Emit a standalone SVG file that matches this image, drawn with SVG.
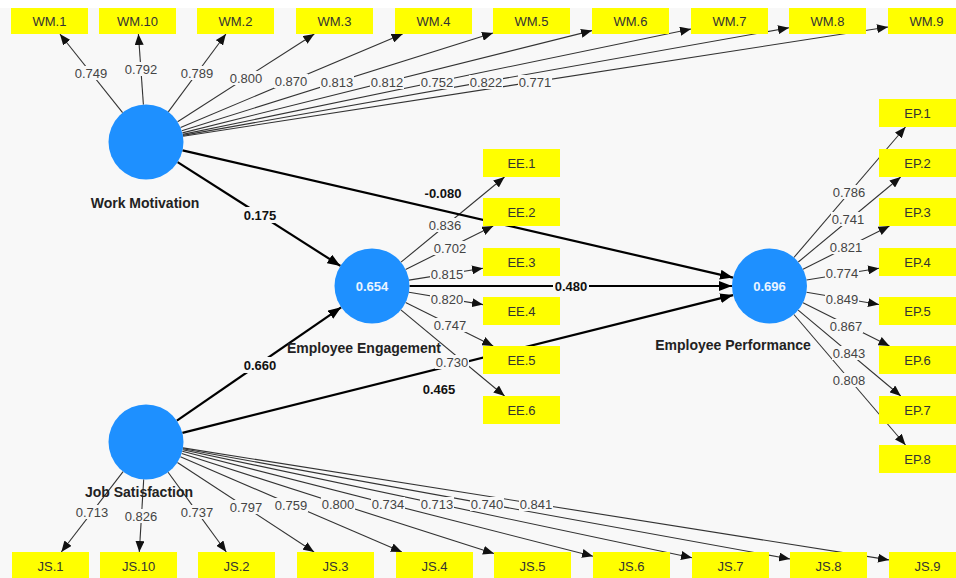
<svg xmlns="http://www.w3.org/2000/svg" width="956" height="578" viewBox="0 0 956 578">
<style>
.bg{fill:#f8f8f8}
.ol{stroke:#333;stroke-width:1.1;fill:none;marker-end:url(#ah)}
.il{stroke:#000;stroke-width:2.2;fill:none;marker-end:url(#ahb)}
.box{fill:#ffff00}
.bt{font-family:"Liberation Sans",Arial,sans-serif;font-size:13px;fill:#333;text-anchor:middle;dominant-baseline:central}
.lv{fill:#1e90ff}
.lvt{font-family:"Liberation Sans",Arial,sans-serif;font-size:13px;font-weight:bold;fill:#eaf4ff;text-anchor:middle;dominant-baseline:central}
.nl{font-family:"Liberation Sans",Arial,sans-serif;font-size:14px;font-weight:bold;fill:#222;text-anchor:middle;dominant-baseline:central}
.lb{font-family:"Liberation Sans",Arial,sans-serif;font-size:13px;fill:#444;text-anchor:middle;dominant-baseline:central}
.pb{font-family:"Liberation Sans",Arial,sans-serif;font-size:13px;font-weight:bold;fill:#111;text-anchor:middle;dominant-baseline:central}
.lr{fill:#f8f8f8}
</style>
<defs>
<marker id="ah" markerUnits="userSpaceOnUse" markerWidth="12" markerHeight="9" refX="11" refY="4.5" orient="auto"><path d="M0,0 L11,4.5 L0,9 z" fill="#111"/></marker>
<marker id="ahb" markerUnits="userSpaceOnUse" markerWidth="14" markerHeight="10" refX="13" refY="5" orient="auto"><path d="M0,0 L13,5 L0,10 z" fill="#000"/></marker>
</defs>
<rect class="bg" x="0" y="0" width="956" height="578"/>
<rect x="0" y="0" width="956" height="8" fill="#ffffff"/>

<g id="connectors">
<!-- WM loadings -->
<line class="ol" x1="122.6" y1="112.7" x2="59.9" y2="34"/>
<line class="ol" x1="143.4" y1="104.6" x2="138.4" y2="34"/>
<line class="ol" x1="168.3" y1="111.9" x2="225.9" y2="34"/>
<line class="ol" x1="177.6" y1="121.7" x2="314.3" y2="34"/>
<line class="ol" x1="180.6" y1="127.5" x2="402.6" y2="34"/>
<line class="ol" x1="181.8" y1="130.8" x2="493" y2="33.1"/>
<line class="ol" x1="182.4" y1="132.9" x2="592" y2="30.6"/>
<line class="ol" x1="182.7" y1="134.4" x2="691" y2="29"/>
<line class="ol" x1="182.9" y1="135.4" x2="789" y2="27.8"/>
<line class="ol" x1="183.1" y1="136.3" x2="888" y2="27"/>
<!-- JS loadings -->
<line class="ol" x1="123.1" y1="471.7" x2="61.3" y2="552"/>
<line class="ol" x1="143.7" y1="479.4" x2="139.3" y2="552"/>
<line class="ol" x1="168.1" y1="472.3" x2="226.3" y2="552"/>
<line class="ol" x1="177.4" y1="462.5" x2="314.1" y2="552"/>
<line class="ol" x1="180.4" y1="456.8" x2="401.9" y2="552"/>
<line class="ol" x1="181.7" y1="453.5" x2="494" y2="553.6"/>
<line class="ol" x1="182.3" y1="451.3" x2="593" y2="556.2"/>
<line class="ol" x1="182.7" y1="449.8" x2="692" y2="557.8"/>
<line class="ol" x1="182.9" y1="448.7" x2="790" y2="559"/>
<line class="ol" x1="183" y1="447.9" x2="889" y2="559.9"/>
<!-- EE loadings -->
<line class="ol" x1="401" y1="262.2" x2="504.5" y2="177"/>
<line class="ol" x1="405.6" y1="269.4" x2="493.2" y2="226"/>
<line class="ol" x1="409" y1="280.1" x2="483" y2="268.2"/>
<line class="ol" x1="409" y1="292.2" x2="483" y2="304.6"/>
<line class="ol" x1="405.6" y1="302.6" x2="493.2" y2="346"/>
<line class="ol" x1="400.9" y1="309.9" x2="504.6" y2="396"/>
<!-- EP loadings -->
<line class="ol" x1="793.9" y1="257.5" x2="905.5" y2="127"/>
<line class="ol" x1="798.3" y1="262" x2="900.7" y2="177"/>
<line class="ol" x1="803" y1="269.2" x2="889.5" y2="226"/>
<line class="ol" x1="806.5" y1="280" x2="879" y2="268.2"/>
<line class="ol" x1="806.5" y1="292.2" x2="879" y2="304.5"/>
<line class="ol" x1="803" y1="302.8" x2="889.5" y2="346"/>
<line class="ol" x1="798.2" y1="310.1" x2="900.8" y2="396"/>
<line class="ol" x1="793.9" y1="314.5" x2="905.5" y2="445"/>
<!-- inner paths -->
<line class="il" x1="177.6" y1="162.1" x2="340.4" y2="265.9"/>
<line class="il" x1="182.5" y1="150.4" x2="733" y2="277.6"/>
<line class="il" x1="176.9" y1="420.7" x2="341.1" y2="307.3"/>
<line class="il" x1="182.4" y1="432.9" x2="733.1" y2="295.1"/>
<line class="il" x1="409.5" y1="286" x2="732" y2="286"/>
</g>

<g id="nodes">
<g id="WM.1"><rect class="box" x="11" y="8" width="77" height="26"/><text class="bt" x="49.5" y="21">WM.1</text></g>
<g id="WM.10"><rect class="box" x="99" y="8" width="77" height="26"/><text class="bt" x="137.5" y="21">WM.10</text></g>
<g id="WM.2"><rect class="box" x="197" y="8" width="77" height="26"/><text class="bt" x="235.5" y="21">WM.2</text></g>
<g id="WM.3"><rect class="box" x="296" y="8" width="77" height="26"/><text class="bt" x="334.5" y="21">WM.3</text></g>
<g id="WM.4"><rect class="box" x="395" y="8" width="77" height="26"/><text class="bt" x="433.5" y="21">WM.4</text></g>
<g id="WM.5"><rect class="box" x="493" y="8" width="77" height="26"/><text class="bt" x="531.5" y="21">WM.5</text></g>
<g id="WM.6"><rect class="box" x="592" y="8" width="77" height="26"/><text class="bt" x="630.5" y="21">WM.6</text></g>
<g id="WM.7"><rect class="box" x="691" y="8" width="77" height="26"/><text class="bt" x="729.5" y="21">WM.7</text></g>
<g id="WM.8"><rect class="box" x="789" y="8" width="77" height="26"/><text class="bt" x="827.5" y="21">WM.8</text></g>
<g id="WM.9"><rect class="box" x="888" y="8" width="77" height="26"/><text class="bt" x="926.5" y="21">WM.9</text></g>

<g id="JS.1"><rect class="box" x="12" y="552" width="77" height="28"/><text class="bt" x="50.5" y="566">JS.1</text></g>
<g id="JS.10"><rect class="box" x="100" y="552" width="77" height="28"/><text class="bt" x="138.5" y="566">JS.10</text></g>
<g id="JS.2"><rect class="box" x="198" y="552" width="77" height="28"/><text class="bt" x="236.5" y="566">JS.2</text></g>
<g id="JS.3"><rect class="box" x="297" y="552" width="77" height="28"/><text class="bt" x="335.5" y="566">JS.3</text></g>
<g id="JS.4"><rect class="box" x="396" y="552" width="77" height="28"/><text class="bt" x="434.5" y="566">JS.4</text></g>
<g id="JS.5"><rect class="box" x="494" y="552" width="77" height="28"/><text class="bt" x="532.5" y="566">JS.5</text></g>
<g id="JS.6"><rect class="box" x="593" y="552" width="77" height="28"/><text class="bt" x="631.5" y="566">JS.6</text></g>
<g id="JS.7"><rect class="box" x="692" y="552" width="77" height="28"/><text class="bt" x="730.5" y="566">JS.7</text></g>
<g id="JS.8"><rect class="box" x="790" y="552" width="77" height="28"/><text class="bt" x="828.5" y="566">JS.8</text></g>
<g id="JS.9"><rect class="box" x="889" y="552" width="77" height="28"/><text class="bt" x="927.5" y="566">JS.9</text></g>

<g id="EE.1"><rect class="box" x="483" y="149" width="77" height="28"/><text class="bt" x="521.5" y="163">EE.1</text></g>
<g id="EE.2"><rect class="box" x="483" y="198" width="77" height="28"/><text class="bt" x="521.5" y="212">EE.2</text></g>
<g id="EE.3"><rect class="box" x="483" y="248" width="77" height="28"/><text class="bt" x="521.5" y="262">EE.3</text></g>
<g id="EE.4"><rect class="box" x="483" y="297" width="77" height="28"/><text class="bt" x="521.5" y="311">EE.4</text></g>
<g id="EE.5"><rect class="box" x="483" y="346" width="77" height="28"/><text class="bt" x="521.5" y="360">EE.5</text></g>
<g id="EE.6"><rect class="box" x="483" y="396" width="77" height="28"/><text class="bt" x="521.5" y="410">EE.6</text></g>

<g id="EP.1"><rect class="box" x="879" y="99" width="77" height="28"/><text class="bt" x="917.5" y="113">EP.1</text></g>
<g id="EP.2"><rect class="box" x="879" y="149" width="77" height="28"/><text class="bt" x="917.5" y="163">EP.2</text></g>
<g id="EP.3"><rect class="box" x="879" y="198" width="77" height="28"/><text class="bt" x="917.5" y="212">EP.3</text></g>
<g id="EP.4"><rect class="box" x="879" y="248" width="77" height="28"/><text class="bt" x="917.5" y="262">EP.4</text></g>
<g id="EP.5"><rect class="box" x="879" y="297" width="77" height="28"/><text class="bt" x="917.5" y="311">EP.5</text></g>
<g id="EP.6"><rect class="box" x="879" y="346" width="77" height="28"/><text class="bt" x="917.5" y="360">EP.6</text></g>
<g id="EP.7"><rect class="box" x="879" y="396" width="77" height="28"/><text class="bt" x="917.5" y="410">EP.7</text></g>
<g id="EP.8"><rect class="box" x="879" y="445" width="77" height="28"/><text class="bt" x="917.5" y="459">EP.8</text></g>

<g id="WorkMotivation"><circle class="lv" cx="146" cy="142" r="37.5"/><text class="nl" x="145" y="203">Work Motivation</text></g>
<g id="JobSatisfaction"><circle class="lv" cx="146" cy="442" r="37.5"/><text class="nl" x="139" y="492">Job Satisfaction</text></g>
<g id="EmployeeEngagement"><circle class="lv" cx="372" cy="286" r="37.5"/><text class="lvt" x="372" y="286">0.654</text><text class="nl" x="364" y="348">Employee Engagement</text></g>
<g id="EmployeePerformance"><circle class="lv" cx="769.5" cy="286" r="37.5"/><text class="lvt" x="769.5" y="286">0.696</text><text class="nl" x="733" y="345">Employee Performance</text></g>
</g>

<g id="edge-labels">
<!-- WM -->
<rect class="lr" x="74" y="66" width="34" height="14"/><text class="lb" x="91" y="73">0.749</text>
<rect class="lr" x="124" y="62" width="34" height="14"/><text class="lb" x="141" y="69">0.792</text>
<rect class="lr" x="180" y="66" width="34" height="14"/><text class="lb" x="197" y="73">0.789</text>
<rect class="lr" x="229" y="71" width="34" height="14"/><text class="lb" x="246" y="78">0.800</text>
<rect class="lr" x="274" y="74" width="34" height="14"/><text class="lb" x="291" y="81">0.870</text>
<rect class="lr" x="320" y="75" width="34" height="14"/><text class="lb" x="337" y="82">0.813</text>
<rect class="lr" x="370" y="75" width="34" height="14"/><text class="lb" x="387" y="82">0.812</text>
<rect class="lr" x="420" y="75" width="34" height="14"/><text class="lb" x="437" y="82">0.752</text>
<rect class="lr" x="469" y="75" width="34" height="14"/><text class="lb" x="486" y="82">0.822</text>
<rect class="lr" x="518" y="75" width="34" height="14"/><text class="lb" x="535" y="82">0.771</text>
<!-- JS -->
<rect class="lr" x="75" y="505" width="34" height="14"/><text class="lb" x="92" y="512">0.713</text>
<rect class="lr" x="124" y="509" width="34" height="14"/><text class="lb" x="141" y="516">0.826</text>
<rect class="lr" x="180" y="505" width="34" height="14"/><text class="lb" x="197" y="512">0.737</text>
<rect class="lr" x="229" y="500" width="34" height="14"/><text class="lb" x="246" y="507">0.797</text>
<rect class="lr" x="274" y="498" width="34" height="14"/><text class="lb" x="291" y="505">0.759</text>
<rect class="lr" x="321" y="497" width="34" height="14"/><text class="lb" x="338" y="504">0.800</text>
<rect class="lr" x="371" y="497" width="34" height="14"/><text class="lb" x="388" y="504">0.734</text>
<rect class="lr" x="420" y="497" width="34" height="14"/><text class="lb" x="437" y="504">0.713</text>
<rect class="lr" x="470" y="497" width="34" height="14"/><text class="lb" x="487" y="504">0.740</text>
<rect class="lr" x="519" y="497" width="34" height="14"/><text class="lb" x="536" y="504">0.841</text>
<!-- EE -->
<rect class="lr" x="428" y="218" width="34" height="14"/><text class="lb" x="445" y="225">0.836</text>
<rect class="lr" x="433" y="241" width="34" height="14"/><text class="lb" x="450" y="248">0.702</text>
<rect class="lr" x="430" y="267" width="34" height="14"/><text class="lb" x="447" y="274">0.815</text>
<rect class="lr" x="430" y="292" width="34" height="14"/><text class="lb" x="447" y="299">0.820</text>
<rect class="lr" x="433" y="318" width="34" height="14"/><text class="lb" x="450" y="325">0.747</text>
<rect class="lr" x="435" y="355" width="34" height="14"/><text class="lb" x="452" y="362">0.730</text>
<!-- EP -->
<rect class="lr" x="832" y="185" width="34" height="14"/><text class="lb" x="849" y="192">0.786</text>
<rect class="lr" x="831" y="212" width="34" height="14"/><text class="lb" x="848" y="219">0.741</text>
<rect class="lr" x="829" y="240" width="34" height="14"/><text class="lb" x="846" y="247">0.821</text>
<rect class="lr" x="825" y="266" width="34" height="14"/><text class="lb" x="842" y="273">0.774</text>
<rect class="lr" x="825" y="292" width="34" height="14"/><text class="lb" x="842" y="299">0.849</text>
<rect class="lr" x="829" y="319" width="34" height="14"/><text class="lb" x="846" y="326">0.867</text>
<rect class="lr" x="832" y="346" width="34" height="14"/><text class="lb" x="849" y="353">0.843</text>
<rect class="lr" x="832" y="373" width="34" height="14"/><text class="lb" x="849" y="380">0.808</text>
<!-- paths -->
<rect class="lr" x="242" y="207" width="36" height="16"/><text class="pb" x="260" y="215">0.175</text>
<text class="pb" x="443" y="193">-0.080</text>
<rect class="lr" x="242" y="357" width="36" height="16"/><text class="pb" x="260" y="365">0.660</text>
<text class="pb" x="439" y="389">0.465</text>
<rect class="lr" x="553" y="278" width="36" height="16"/><text class="pb" x="571" y="286">0.480</text>
</g>
</svg>
